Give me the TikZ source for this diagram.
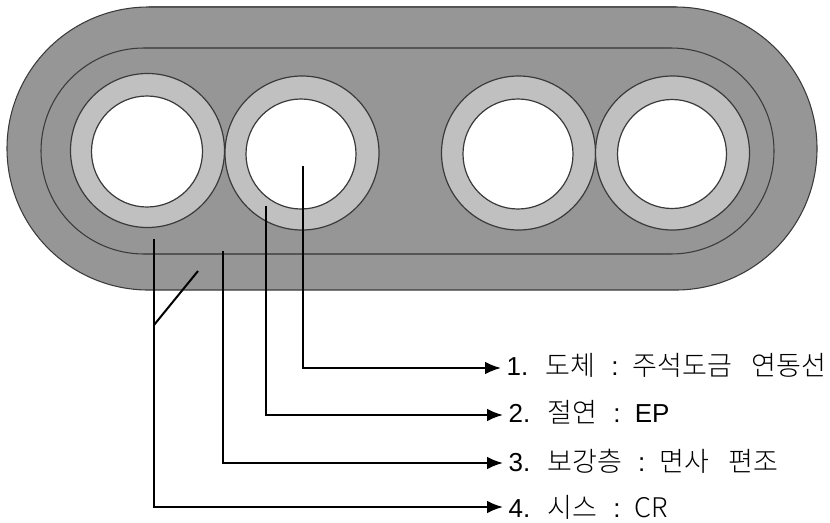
\documentclass[tikz,border=0pt]{standalone}
\usepackage{fontspec}
\setmainfont{Liberation Sans}
\newfontfamily\kr[Scale=1.04]{Noto Sans CJK KR Light}
\usetikzlibrary{arrows.meta}
\definecolor{cableGray}{HTML}{969696}
\definecolor{ringGray}{HTML}{C0C0C0}
\definecolor{ringLine}{HTML}{3A3A3A}
\definecolor{flatLine}{HTML}{555555}
\tikzset{
  x=0.75pt,y=-0.75pt,
  sheath/.style={fill=cableGray,draw=ringLine,line width=0.8pt},
  flat/.style={draw=flatLine,line width=1.2pt},
  ringshape/.style={fill=ringGray,draw=ringLine,line width=0.9pt},
  conductor/.style={fill=white,draw=ringLine,line width=0.9pt},
  leader/.style={draw=black,line width=1.5pt,miter limit=10},
  leadarrow/.style={leader,-{Latex[length=12pt,width=9.5pt]}},
  lbl/.style={anchor=west,inner ysep=0pt,inner xsep=4pt,font=\fontsize{19.5}{21}\selectfont,text height=12pt,text depth=2pt}
}
\newcommand{\gapA}{\hspace{0.68em}}
\newcommand{\gapB}{\hspace{0.6em}}
\newcommand{\gapC}{\hspace{0.55em}}
\newcommand{\gapD}{\hspace{0.75em}}
\begin{document}
\begin{tikzpicture}
\useasboundingbox (0,0) rectangle (830,522);
% jacket
\draw[sheath] (148.5,7) -- (675.5,7) arc[start angle=-90,end angle=90,radius=141.5] -- (148.5,290) arc[start angle=90,end angle=270,radius=141.5] -- cycle;
\draw[sheath] (144,48) -- (671,48) arc[start angle=-90,end angle=90,radius=103] -- (144,254) arc[start angle=90,end angle=270,radius=103] -- cycle;
\draw[flat] (148.5,7) -- (675.5,7);
\draw[flat] (144,48) -- (671,48);
\draw[flat] (144,254) -- (671,254);
% cores
\foreach \cx/\cy/\ix/\iy/\r in {147.5/150.5/147/151.5/55.5, 302/153/301/154/55, 518.5/153/518/154/55, 672.5/153/672/154/54.5}{
  \draw[ringshape] (\cx,\cy) circle[radius=77];
  \draw[conductor] (\ix,\iy) circle[radius=\r];
}
% labels
\node[lbl] (t1) at (501,368) {\raisebox{-0.75pt}{1.\gapA{\kr 도체}\gapB:\gapC{\kr 주석도금}\gapD{\kr 연동선}}};
\node[lbl] (t2) at (503,415) {\raisebox{-0.75pt}{2.\gapA{\kr 절연}\gapB:\gapC EP}};
\node[lbl] (t3) at (503,463) {\raisebox{-1.5pt}{3.\gapA{\kr 보강층}\gapB:\gapC{\kr 면사}\gapD{\kr 편조}}};
\node[lbl] (t4) at (503,507) {\raisebox{-3pt}{4.\gapA{\kr 시스}\gapB:\gapC{\kr CR}}};
% leader ends
\coordinate (p1) at (303,166);
\coordinate (p2) at (265.5,206);
\coordinate (p3) at (222.5,251);
\coordinate (p4) at (154,239);
\coordinate (p5) at (198,271);
\coordinate (j4) at (154,325);
\draw[leadarrow] (p1) |- (t1.west);
\draw[leadarrow] (p2) |- (t2.west);
\draw[leadarrow] (p3) |- (t3.west);
\draw[leadarrow] (p4) |- (t4.west);
\draw[leader] (p5) -- (j4);
\end{tikzpicture}
\end{document}
